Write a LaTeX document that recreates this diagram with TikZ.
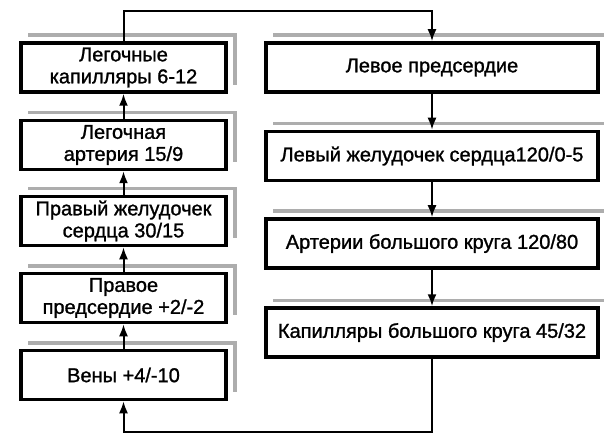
\documentclass[tikz,border=0pt]{standalone}
\usepackage{fontspec}
\setmainfont{Liberation Sans}[FakeBold=1.2]
\usetikzlibrary{arrows.meta,positioning}
\definecolor{shadowgrey}{HTML}{ADADAD}
\tikzset{
  box/.style={draw=black, fill=white, line width=3.5pt, align=center, inner sep=2pt,
              minimum height=49pt, font=\fontsize{20}{22}\selectfont},
  lbox/.style={box, minimum width=205pt},
  rbox/.style={box, minimum width=332pt},
  flow/.style={-{Latex[length=12pt,width=9pt]}, line width=2pt, black},
  shade/.style={draw=shadowgrey, line width=3.5pt},
}
\begin{document}
\begin{tikzpicture}[x=1pt, y=-1pt]
    \useasboundingbox (0,0) rectangle (604,438);
    \node[lbox] (lcap) at (123.5,67.5) {Легочные\\капилляры 6-12};
    \node[lbox] (lart) at (123.5,145) {Легочная\\артерия 15/9};
    \node[lbox] (rvent) at (123.5,221) {Правый желудочек\\сердца 30/15};
    \node[lbox] (ratr) at (123.5,298) {Правое\\предсердие +2/-2};
    \node[lbox] (veins) at (123.5,375) {Вены +4/-10};

    \node[rbox] (latr) at (432,67.5) {Левое предсердие};
    \node[rbox] (lvent) at (432,156) {Левый желудочек сердца120/0-5};
    \node[rbox] (sart) at (432,243.5) {Артерии большого круга 120/80};
    \node[rbox] (scap) at (432,332.5) {Капилляры большого круга 45/32};

    \foreach \n in {lcap,lart,rvent,ratr,veins,latr,lvent,sart,scap}
      \draw[shade] ([xshift=9pt,yshift=6pt]\n.north west) -| ([xshift=7pt,yshift=9pt]\n.south east);

    \draw[flow] (veins) -- (ratr); \draw[flow] (ratr) -- (rvent); \draw[flow] (rvent) -- (lart); \draw[flow] (lart) -- (lcap);
    \draw[flow] (lcap.north) -- ++(0,-30) -| (latr.north);
    \draw[flow] (latr) -- (lvent); \draw[flow] (lvent) -- (sart); \draw[flow] (sart) -- (scap);
    \draw[flow] (scap.south) -- ++(0,73) -| (veins.south);
\end{tikzpicture}
\end{document}
